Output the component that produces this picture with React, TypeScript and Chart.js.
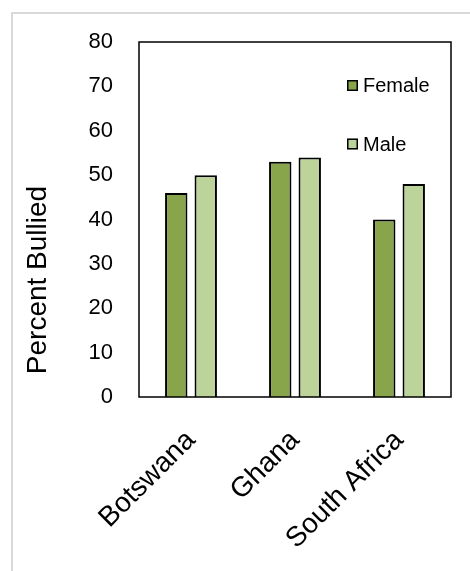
import React, { useEffect, useRef } from "react";
import { Chart, registerables } from "chart.js";

Chart.register(...registerables);

const categories = ["Botswana", "Ghana", "South Africa"];
const seriesNames = ["Female", "Male"];
const femaleValues = [46, 53, 40];
const maleValues = [50, 54, 48];
const seriesColors = ["#88a54b", "#bcd39a"];
const yMin = 0;
const yMax = 80;
const yStep = 10;
const yAxisTitle = "Percent Bullied";

const FONT = "'Liberation Sans', Arial, Helvetica, sans-serif";

const framePlugin = {
  id: "frame",
  afterDatasetsDraw(chart: any) {
    const { ctx, chartArea: a } = chart;
    ctx.save();
    ctx.strokeStyle = "#000";
    ctx.lineWidth = 1.5;
    ctx.strokeRect(a.left, a.top, a.right - a.left, a.bottom - a.top);
    ctx.restore();
  },
};

const axisTitlePlugin = {
  id: "axisTitleCustom",
  afterDraw(chart: any) {
    const { ctx, chartArea: a } = chart;
    ctx.save();
    ctx.translate(a.left - 100.5, a.bottom - 117);
    ctx.rotate(-Math.PI / 2);
    ctx.font = `28px ${FONT}`;
    ctx.fillStyle = "#000";
    ctx.textAlign = "center";
    ctx.textBaseline = "middle";
    ctx.fillText(yAxisTitle, 0, 0);
    ctx.restore();
  },
};

const legendPlugin = {
  id: "insideLegend",
  afterDraw(chart: any) {
    const { ctx, chartArea: a } = chart;
    ctx.save();
    chart.data.datasets.forEach((ds: any, i: number) => {
      const cy = a.top + 43.5 + i * 58.5;
      const bx = a.left + 208;
      ctx.fillStyle = ds.backgroundColor;
      ctx.fillRect(bx, cy - 5.5, 11, 11);
      ctx.strokeStyle = "#000";
      ctx.lineWidth = 1.5;
      ctx.strokeRect(bx + 0.75, cy - 4.75, 9.5, 9.5);
      ctx.fillStyle = "#000";
      ctx.font = `20px ${FONT}`;
      ctx.textAlign = "left";
      ctx.textBaseline = "middle";
      ctx.fillText(ds.label, bx + 16, cy + 1);
    });
    ctx.restore();
  },
};

export default function App() {
  const ref = useRef<HTMLCanvasElement | null>(null);

  useEffect(() => {
    if (!ref.current) return;
    const chart = new Chart(ref.current, {
      type: "bar",
      data: {
        labels: categories,
        datasets: [
          {
            label: seriesNames[0],
            data: femaleValues,
            backgroundColor: seriesColors[0],
            borderColor: "#000",
            borderWidth: 2,
            categoryPercentage: 0.567,
            barPercentage: 0.76,
          },
          {
            label: seriesNames[1],
            data: maleValues,
            backgroundColor: seriesColors[1],
            borderColor: "#000",
            borderWidth: 2,
            categoryPercentage: 0.567,
            barPercentage: 0.76,
          },
        ],
      },
      options: {
        responsive: false,
        animation: false,
        devicePixelRatio: 1,
        layout: { padding: { left: 0, top: 42, right: 19, bottom: 0 } },
        plugins: {
          legend: { display: false },
          tooltip: { enabled: false },
          title: { display: false },
        },
        scales: {
          x: {
            grid: { display: false, drawTicks: false },
            border: { display: false },
            ticks: {
              color: "#000",
              font: { family: FONT, size: 28 },
              maxRotation: 45,
              minRotation: 45,
              padding: 27,
              autoSkip: false,
            },
            afterFit(scale: any) {
              scale.height = 174;
            },
          },
          y: {
            min: yMin,
            max: yMax,
            grid: { display: false, drawTicks: false },
            border: { display: false },
            ticks: {
              stepSize: yStep,
              color: "#000",
              font: { family: FONT, size: 22 },
              padding: 26,
            },
            afterFit(scale: any) {
              scale.width = 139;
            },
          },
        },
      },
      plugins: [framePlugin, axisTitlePlugin, legendPlugin],
    });
    return () => chart.destroy();
  }, []);

  return (
    <div style={{ position: "fixed", left: 0, top: 0, width: 470, height: 571, background: "#fff" }}>
      <div
        style={{
          position: "absolute",
          left: 11,
          top: 12,
          width: 470,
          height: 571,
          borderLeft: "2px solid #d9d9d9",
          borderTop: "2px solid #d9d9d9",
        }}
      />
      <canvas
        ref={ref}
        width={470}
        height={571}
        style={{ position: "absolute", left: 0, top: 0, width: 470, height: 571, display: "block" }}
      />
    </div>
  );
}
